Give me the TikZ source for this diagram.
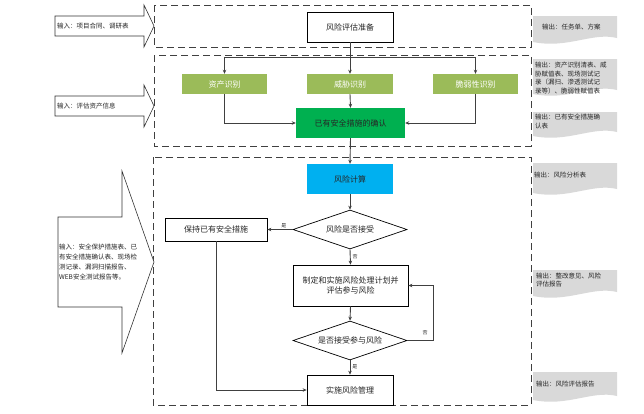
\documentclass[tikz,border=0pt]{standalone}
\usepackage{fontspec}
\setmainfont{Noto Sans CJK SC}
\usetikzlibrary{shapes.geometric,arrows.meta}
\definecolor{lgreen}{HTML}{9BBB59}
\definecolor{dgreen}{HTML}{00B050}
\definecolor{skyblue}{HTML}{00B0F0}
\definecolor{docgray}{HTML}{D9D9D9}
\definecolor{linegray}{HTML}{404040}
\newcommand{\rsdoc}[7]{% name, x1, y1, x2, y2, text x, text y, text
  \fill[docgray] (#2,#3) -- (#4,#3) -- (#4,#5-4) .. controls (#4-25,#5-10) and (#2+35,#5+7) .. (#2,#5) -- cycle;
  \node[doctext] (#1) at (#6,#7) {\rsdoctext};}
\begin{document}
\begin{tikzpicture}[x=1pt,y=-1pt,
  box/.style={draw=black, line width=0.7pt, fill=white, inner sep=0pt, align=center,
    font=\fontsize{8}{10}\selectfont, text=black!85},
  gbox/.style={fill=lgreen, inner sep=0pt, align=center, font=\fontsize{8}{10}\selectfont, text=white,
    minimum height=20pt},
  dbox/.style={draw=black, line width=0.7pt, fill=white, shape=diamond, aspect=2.9, inner sep=0pt,
    minimum width=114pt, minimum height=39pt, font=\fontsize{8}{10}\selectfont, text=black!85},
  conn/.style={draw=linegray, line width=0.9pt, -{Stealth[length=4pt,width=3.5pt]}},
  plain/.style={draw=linegray, line width=0.9pt},
  region/.style={draw=black!75, line width=0.9pt, dash pattern=on 7pt off 4pt},
  barrow/.style={draw=black!80, line width=0.6pt, fill=white},
  intext/.style={anchor=west, inner sep=0pt, align=left, font=\fontsize{6.5}{9.7}\selectfont, text=black!85},
  doctext/.style={anchor=west, inner sep=0pt, align=left, font=\fontsize{6.5}{8.7}\selectfont, text=black!85},
  lbl/.style={inner sep=0pt, font=\fontsize{5}{6}\selectfont, text=black!85}
]
\useasboundingbox (0,0) rectangle (644,413);

% dashed regions
\draw[region] (154,5) rectangle (531,47);
\draw[region] (154,55) rectangle (531,146);
\draw[region] (153,157) rectangle (531,405);

% input block arrows
\draw[barrow] (55,16) -- (144,16) -- (144,5) -- (154,26) -- (144,47) -- (144,36) -- (55,36) -- cycle;
\node[intext] (in1) at (57,26) {输入：项目合同、调研表};
\draw[barrow] (55,96) -- (144,96) -- (144,85) -- (154,106) -- (144,127) -- (144,116) -- (55,116) -- cycle;
\node[intext] (in2) at (57,106) {输入：评估资产信息};
\draw[barrow] (58,217) -- (122,217) -- (122,171) -- (154,262) -- (122,353) -- (122,307) -- (58,307) -- cycle;
\node[intext] (in3) at (59,262) {输入：安全保护措施表、已\\有安全措施确认表、现场检\\测记录、漏洞扫描报告、\\WEB安全测试报告等。};

% output documents
\def\rsdoctext{输出：任务单、方案}
\rsdoc{out1}{533}{16}{617}{42}{542}{27}
\def\rsdoctext{输出：资产识别清表、威\\胁赋值表、现场测试记\\录（漏扫、渗透测试记\\录等）、脆弱性赋值表}
\rsdoc{out2}{533}{59}{617}{94}{535}{78}
\def\rsdoctext{输出：已有安全措施确\\认表}
\rsdoc{out3}{533}{112}{617}{136}{535}{121.5}
\def\rsdoctext{输出：风险分析表}
\rsdoc{out4}{533}{163}{617}{193}{534}{175}
\def\rsdoctext{输出：整改意见、风险\\评估报告}
\rsdoc{out5}{533}{270}{617}{296}{536}{280}
\def\rsdoctext{输出：风险评估报告}
\rsdoc{out6}{533}{372}{617}{400}{536}{384}

% main nodes
\node[box, minimum width=86pt, minimum height=30pt] (prep) at (350,27) {风险评估准备};
\node[gbox, minimum width=85pt] (asset) at (224.5,84) {资产识别};
\node[gbox, minimum width=86pt] (threat) at (350,84) {威胁识别};
\node[gbox, minimum width=85pt] (vuln) at (475.5,84) {脆弱性识别};
\node[fill=dgreen, inner sep=0pt, minimum width=109pt, minimum height=30pt,
  font=\fontsize{8}{10}\selectfont, text=black!85] (exist) at (350.5,123) {已有安全措施的确认};
\node[fill=skyblue, inner sep=0pt, minimum width=86pt, minimum height=30pt,
  font=\fontsize{8}{10}\selectfont, text=black!85] (calc) at (350,179) {风险计算};
\node[dbox] (dec1) at (350,229.5) {风险是否接受};
\node[box, minimum width=102pt, minimum height=23pt] (keep) at (216,229.5) {保持已有安全措施};
\node[box, minimum width=115pt, minimum height=41pt] (plan) at (350.5,285.5) {制定和实施风险处理计划并\\评估参与风险};
\node[dbox] (dec2) at (350,340.5) {是否接受参与风险};
\node[box, minimum width=86pt, minimum height=30pt] (impl) at (350,390) {实施风险管理};

% connectors
\coordinate (split) at (350,57);
\draw[conn] (prep.south) -- (threat.north);
\draw[conn] (split) -| (asset.north);
\draw[conn] (split) -| (vuln.north);
\draw[conn] (asset.south) |- (exist.west);
\draw[conn] (vuln.south) |- (exist.east);
\draw[conn] (threat.south) -- (exist.north);
\draw[conn] (exist.south) -- (calc.north);
\draw[conn] (calc.south) -- (dec1.north);
\draw[conn] (dec1.west) -- node[lbl, above=1.5pt, pos=0.35] (l1) {是} (keep.east);
\draw[conn] (dec1.south) -- node[lbl, right=2pt, pos=0.5] (l2) {否} (plan.north);
\draw[conn] (plan.south) -- (dec2.north);
\coordinate (loopc) at (433,340.5);
\draw[plain] (dec2.east) -- (loopc);
\draw[conn] (loopc) |- (plan.east);
\node[lbl] (l3) at (425,333) {否};
\draw[conn] (dec2.south) -- node[lbl, right=2pt, pos=0.45] (l4) {是} (impl.north);
\draw[conn] (keep.south) |- (impl.west);
\end{tikzpicture}
\end{document}
